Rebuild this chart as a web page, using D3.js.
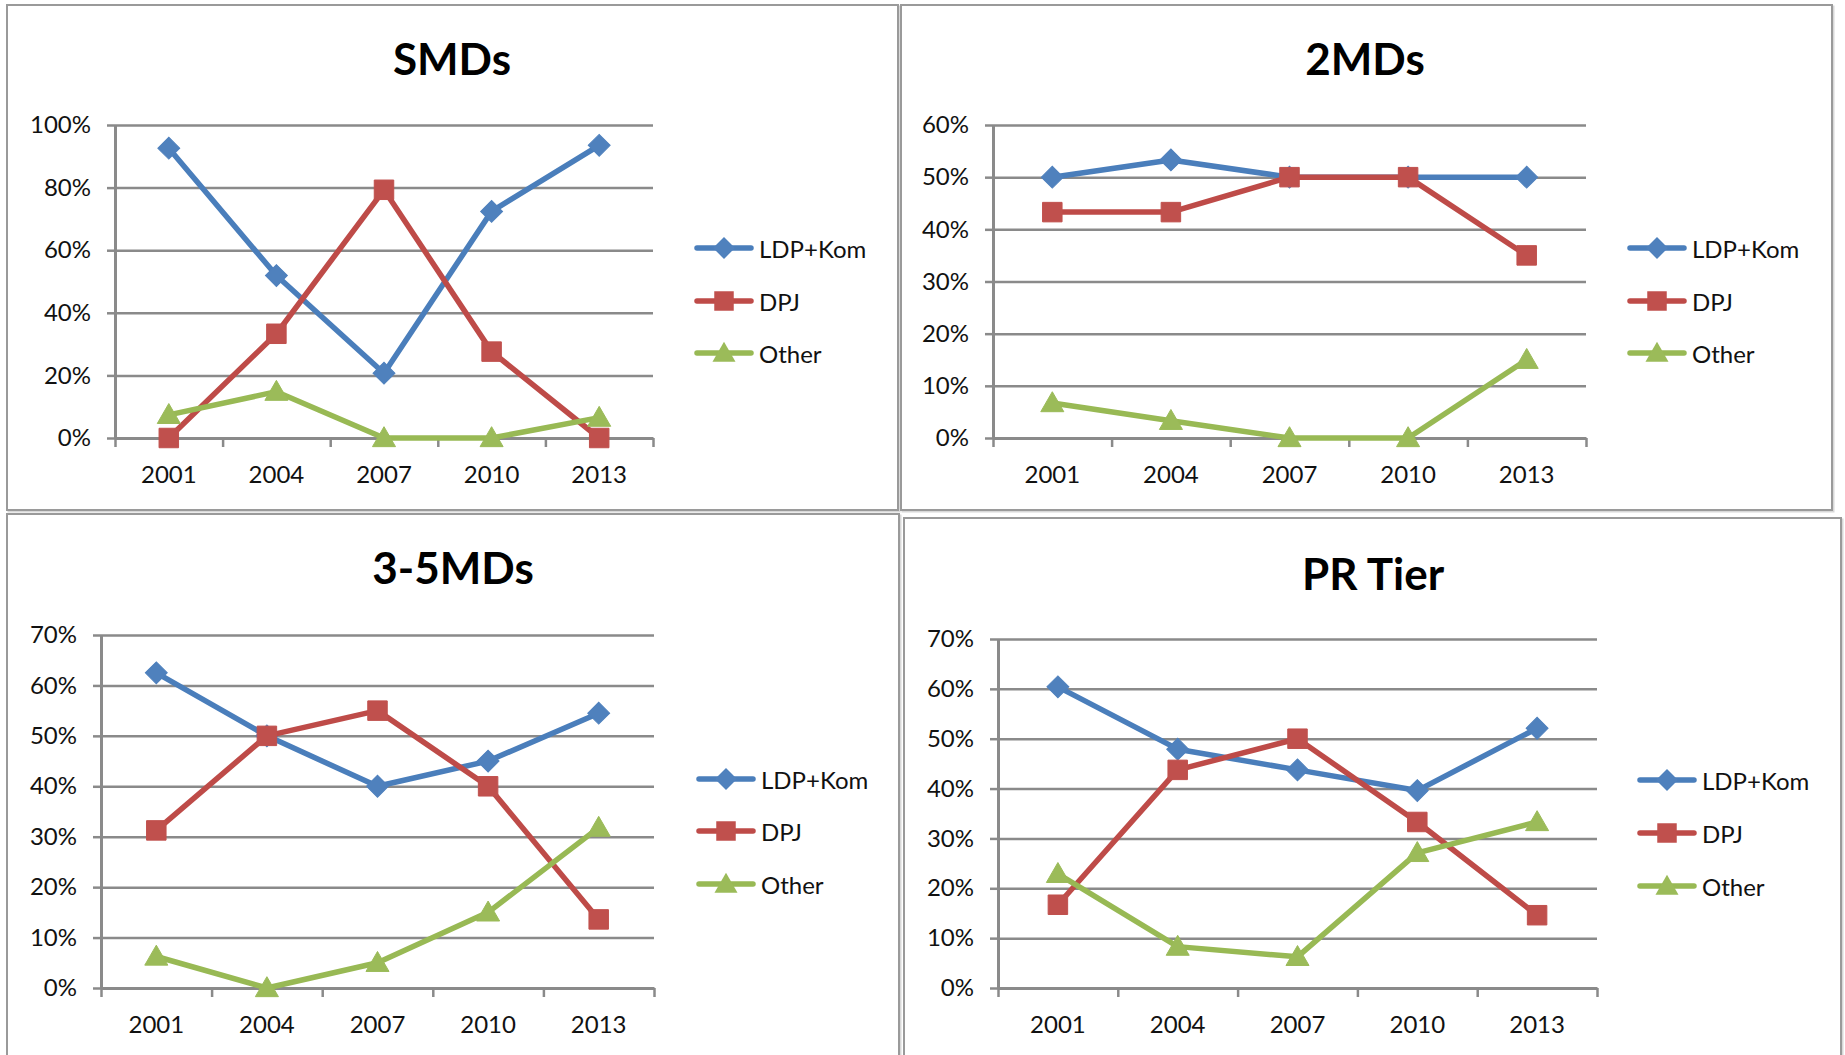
<!DOCTYPE html>
<html>
<head>
<meta charset="utf-8">
<script src="https://cdn.jsdelivr.net/npm/d3@7"></script>
<style>
  html, body { margin: 0; padding: 0; background: #ffffff; }
  svg { display: block; }
  text { font-family: Lato, "Open Sans", sans-serif; fill: #111; }
</style>
</head>
<body>
<svg id="chart" width="1845" height="1055"></svg>
<script>
// ---------------- DATA ----------------
const years = ["2001", "2004", "2007", "2010", "2013"];
const seriesNames = ["LDP+Kom", "DPJ", "Other"];

const smdTitle = "SMDs";
const smdTicks = [0, 20, 40, 60, 80, 100];
const smdLDP   = [92.6, 51.9, 20.7, 72.4, 93.5];
const smdDPJ   = [0, 33.3, 79.3, 27.6, 0];
const smdOther = [7.4, 14.8, 0, 0, 6.5];

const twoTitle = "2MDs";
const twoTicks = [0, 10, 20, 30, 40, 50, 60];
const twoLDP   = [50, 53.3, 50, 50, 50];
const twoDPJ   = [43.3, 43.3, 50, 50, 35];
const twoOther = [6.7, 3.3, 0, 0, 15];

const multiTitle = "3-5MDs";
const multiTicks = [0, 10, 20, 30, 40, 50, 60, 70];
const multiLDP   = [62.5, 50, 40, 45, 54.5];
const multiDPJ   = [31.25, 50, 55, 40, 13.6];
const multiOther = [6.25, 0, 5, 15, 31.8];

const prTitle = "PR Tier";
const prTicks = [0, 10, 20, 30, 40, 50, 60, 70];
const prLDP   = [60.4, 47.9, 43.75, 39.6, 52.1];
const prDPJ   = [16.7, 43.75, 50, 33.3, 14.6];
const prOther = [22.9, 8.3, 6.25, 27.1, 33.3];

// ---------------- STYLE ----------------
const lineColors   = ["#4A7EBB", "#BE4B48", "#98B954"];
const markerColors = ["#4F81BD", "#C0504D", "#9BBB59"];
const gridColor = "#8a8a8a";

const svg = d3.select("#chart");

function markerPath(i) {
  if (i === 0) return d3.symbol().type(d3.symbolSquare).size(240)();
  if (i === 1) return d3.symbol().type(d3.symbolSquare).size(380)();
  return d3.symbol().type(d3.symbolTriangle).size(230)();
}
function markerTransform(i, x, y) {
  if (i === 0) return `translate(${x},${y}) rotate(45)`;
  if (i === 2) return `translate(${x},${y + 2})`;
  return `translate(${x},${y})`;
}

function drawPanel(p) {
  const g = svg.append("g");
  g.append("rect")
    .attr("x", p.frame[0] + 1.5).attr("y", p.frame[1] + 1.5)
    .attr("width", p.frame[2] - p.frame[0]).attr("height", p.frame[3] - p.frame[1])
    .attr("fill", "none").attr("stroke", "#d8d8d8").attr("stroke-width", 2);
  g.append("rect")
    .attr("x", p.frame[0]).attr("y", p.frame[1])
    .attr("width", p.frame[2] - p.frame[0]).attr("height", p.frame[3] - p.frame[1])
    .attr("fill", "#fff").attr("stroke", "#9a9a9a").attr("stroke-width", 2);

  g.append("text")
    .attr("x", p.titleX).attr("y", p.titleY)
    .attr("text-anchor", "middle").attr("dominant-baseline", "central")
    .style("font-size", "44px").style("font-weight", "bold").style("fill", "#000")
    .text(p.title);

  const x = d3.scaleBand().domain(years).range([p.left, p.right]);
  const y = d3.scaleLinear().domain([0, d3.max(p.ticks)]).range([p.bottom, p.top]);
  const cx = d => x(d) + x.bandwidth() / 2;

  const grid = g.append("g").attr("transform", `translate(${p.left},0)`)
    .call(d3.axisLeft(y).tickValues(p.ticks).tickSize(-(p.right - p.left)).tickFormat(""));
  grid.select(".domain").remove();
  grid.selectAll(".tick line").attr("stroke", gridColor).attr("stroke-width", 2.5);

  const ya = g.append("g").attr("transform", `translate(${p.left},0)`)
    .call(d3.axisLeft(y).tickValues(p.ticks).tickSize(8).tickPadding(16).tickSizeOuter(0)
      .tickFormat(d => d + "%"));
  ya.select(".domain").attr("stroke", gridColor).attr("stroke-width", 3);
  ya.selectAll(".tick line").attr("stroke", gridColor).attr("stroke-width", 2.5);
  ya.selectAll(".tick text").style("font-size", "24px").style("font-family", "Lato, sans-serif").attr("fill", "#111");

  const xa = g.append("g").attr("transform", `translate(0,${p.bottom})`)
    .call(d3.axisBottom(x).tickSize(0).tickPadding(28));
  xa.select(".domain").attr("stroke", gridColor).attr("stroke-width", 3);
  xa.selectAll(".tick text").style("font-size", "24px").style("font-family", "Lato, sans-serif").attr("fill", "#111");
  const xb = d3.scaleLinear().domain([0, years.length]).range([p.left, p.right]);
  const xt = g.append("g").attr("transform", `translate(0,${p.bottom})`)
    .call(d3.axisBottom(xb).tickValues(d3.range(years.length + 1)).tickSize(9).tickFormat(""));
  xt.select(".domain").remove();
  xt.selectAll(".tick line").attr("stroke", gridColor).attr("stroke-width", 2.5);

  const line = d3.line().x((d, i) => cx(years[i])).y(d => y(d));
  p.series.forEach((vals, si) => {
    const sg = g.append("g");
    sg.append("path").datum(vals).attr("d", line)
      .attr("fill", "none").attr("stroke", lineColors[si]).attr("stroke-width", 5.5)
      .attr("stroke-linejoin", "round").attr("stroke-linecap", "round");
    sg.selectAll("path.m").data(vals).enter().append("path").attr("class", "m")
      .attr("d", markerPath(si))
      .attr("transform", (d, i) => markerTransform(si, cx(years[i]), y(d)))
      .attr("fill", markerColors[si]).attr("stroke", markerColors[si]).attr("stroke-width", 1);
  });

  seriesNames.forEach((name, si) => {
    const ly = p.legendY[si];
    g.append("line").attr("x1", p.legendX).attr("x2", p.legendX + 54)
      .attr("y1", ly).attr("y2", ly)
      .attr("stroke", lineColors[si]).attr("stroke-width", 5.5).attr("stroke-linecap", "round");
    g.append("path").attr("d", markerPath(si))
      .attr("transform", markerTransform(si, p.legendX + 27, ly))
      .attr("fill", markerColors[si]);
    g.append("text").attr("x", p.legendX + 62).attr("y", ly)
      .attr("dominant-baseline", "central")
      .style("font-size", "24px").text(name);
  });
}

drawPanel({
  title: smdTitle, ticks: smdTicks, series: [smdLDP, smdDPJ, smdOther],
  frame: [7, 5, 898, 510], titleX: 452, titleY: 58,
  left: 115, right: 653, top: 125, bottom: 438,
  legendX: 697, legendY: [248, 301, 353]
});
drawPanel({
  title: twoTitle, ticks: twoTicks, series: [twoLDP, twoDPJ, twoOther],
  frame: [901, 5, 1832, 510], titleX: 1365, titleY: 58,
  left: 993, right: 1586, top: 125, bottom: 438,
  legendX: 1630, legendY: [248, 301, 353]
});
drawPanel({
  title: multiTitle, ticks: multiTicks, series: [multiLDP, multiDPJ, multiOther],
  frame: [7, 514, 899, 1070], titleX: 453, titleY: 567,
  left: 101, right: 654, top: 635, bottom: 988,
  legendX: 699, legendY: [779, 831, 884]
});
drawPanel({
  title: prTitle, ticks: prTicks, series: [prLDP, prDPJ, prOther],
  frame: [904, 518, 1841, 1070], titleX: 1373, titleY: 573,
  left: 998, right: 1597, top: 639, bottom: 988,
  legendX: 1640, legendY: [780, 833, 886]
});
</script>
</body>
</html>
